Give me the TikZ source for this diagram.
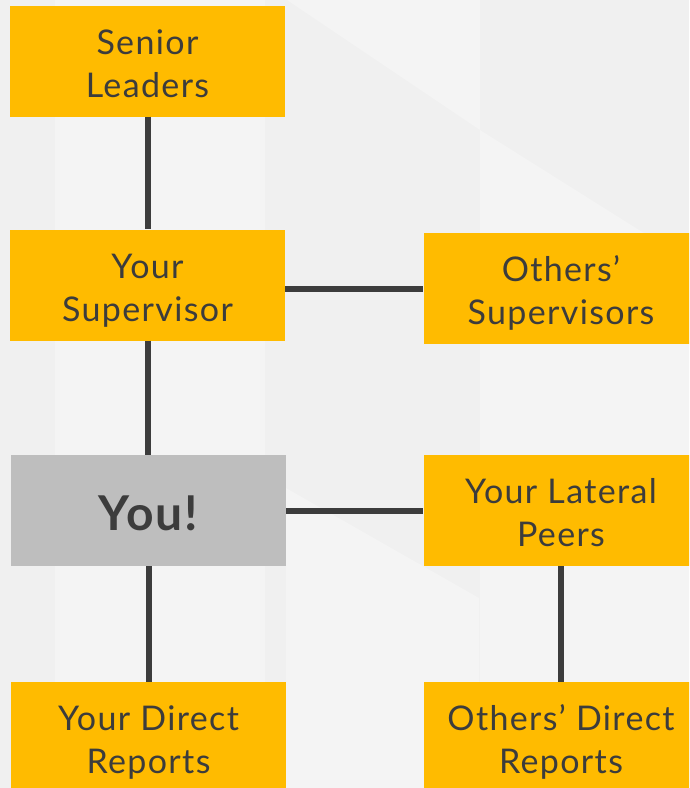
\documentclass[tikz,border=0pt]{standalone}
\usepackage{fontspec}
\setmainfont{Lato}[LetterSpace=4]
\definecolor{bg}{HTML}{F0F0F0}
\definecolor{bglight}{HTML}{F4F4F4}
\definecolor{boxyellow}{HTML}{FFBB00}
\definecolor{boxgray}{HTML}{BEBEBE}
\definecolor{ink}{HTML}{3C3C3C}
\newcommand{\boxtext}[2][-6pt]{\raisebox{#1}[\height][\depth]{\begin{tabular}{@{}c@{}}#2\end{tabular}}}
\tikzset{
  orgbox/.style={rectangle, fill=boxyellow, minimum width=275pt, minimum height=111pt,
    inner sep=0pt, text=ink, font=\fontsize{34}{43}\selectfont},
  youbox/.style={orgbox, fill=boxgray, font=\fontsize{48}{54}\selectfont\bfseries},
  link/.style={draw=ink, line width=6pt}
}
\begin{document}
\begin{tikzpicture}[x=1pt,y=-1pt]
\useasboundingbox (0,0) rectangle (689,788);
\clip (0,0) rectangle (689,788);
\fill[bg] (0,0) rectangle (689,788);
% subtle background shapes
\fill[bglight] (287,0) -- (480,0) -- (480,130) -- cycle;
\fill[bglight] (480,130) -- (647,235) -- (689,235) -- (689,788) -- (480,788) -- cycle;
\fill[bglight] (55,0) rectangle (265,788);
\fill[bglight] (286,488) -- (479,598) -- (479,788) -- (286,788) -- cycle;
% nodes
\node[orgbox] (sl) at (147.5,61) {\boxtext{Senior\\Leaders}};
\node[orgbox] (ys) at (147.5,285) {\boxtext{Your\\Supervisor}};
\node[orgbox] (os) at (561,288.5) {\boxtext{Others’\\Supervisors}};
\node[youbox] (you) at (148.5,510.5) {\boxtext[-9pt]{You!}};
\node[orgbox] (lp) at (561,510.5) {\boxtext{Your Lateral\\Peers}};
\node[orgbox] (dr) at (148.5,737.5) {\boxtext{Your Direct\\Reports}};
\node[orgbox] (odr) at (561,737.5) {\boxtext{Others’ Direct\\Reports}};
% connectors
\draw[link] (sl.south) -- (ys.north);
\draw[link] (ys.south) -- (you.north -| ys.south);
\draw[link] (you.south) -- (dr.north);
\draw[link] (os.west -| ys.east) -- (os.west);
\draw[link] (you.east) -- (lp.west);
\draw[link] (lp.south) -- (odr.north);
\end{tikzpicture}
\end{document}
